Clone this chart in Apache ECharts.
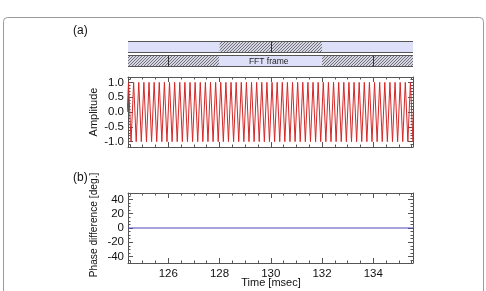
<!DOCTYPE html>
<html><head><meta charset="utf-8">
<script src="https://cdn.jsdelivr.net/npm/echarts@6/dist/echarts.min.js"></script>
<style>html,body{margin:0;padding:0;background:#fff}#c{width:486px;height:291px}</style>
</head><body><div id="c"></div>
<script>
// ---- data ----
const timeMin = 124.43, timeMax = 135.55;
const sampleStart = 124.40, sampleStep = 0.05; // msec, uniform sampling
const amplitude = [
0,1,0,-1,0,1,0,-1,0,1,0,-1,0,1,0,-1,0,1,0,-1,
0,1,0,-1,0,1,0,-1,0,1,0,-1,0,1,0,-1,0,1,0,-1,
0,1,0,-1,0,1,0,-1,0,1,0,-1,0,1,0,-1,0,1,0,-1,
0,1,0,-1,0,1,0,-1,0,1,0,-1,0,1,0,-1,0,1,0,-1,
0,1,0,-1,0,1,0,-1,0,1,0,-1,0,1,0,-1,0,1,0,-1,
0,1,0,-1,0,1,0,-1,0,1,0,-1,0,1,0,-1,0,1,0,-1,
0,1,0,-1,0,1,0,-1,0,1,0,-1,0,1,0,-1,0,1,0,-1,
0,1,0,-1,0,1,0,-1,0,1,0,-1,0,1,0,-1,0,1,0,-1,
0,1,0,-1,0,1,0,-1,0,1,0,-1,0,1,0,-1,0,1,0,-1,
0,1,0,-1,0,1,0,-1,0,1,0,-1,0,1,0,-1,0,1,0,-1,
0,1,0,-1,0,1,0,-1,0,1,0,-1,0,1,0,-1,0,1,0,-1,
0,1,0,-1,0
];
const phaseTimes = [124.43, 135.55];
const phaseDiff = [0, 0];
const timeTicks = [126, 128, 130, 132, 134];
const timeMinorTicks = [124.5,125,125.5,126.5,127,127.5,128.5,129,129.5,130.5,131,131.5,132.5,133,133.5,134.5,135,135.5];
const ampTicks = [-1, -0.5, 0, 0.5, 1];
const ampMinorTicks = [-1.1,-0.9,-0.8,-0.7,-0.6,-0.4,-0.3,-0.2,-0.1,0.1,0.2,0.3,0.4,0.6,0.7,0.8,0.9,1.1];
const phaseTicks = [-40, -20, 0, 20, 40];
const phaseMinorTicks = [-45,-35,-30,-25,-15,-10,-5,5,10,15,25,30,35,45];
// frame bar segments: [start, end, row, hatched]
const frameSegments = [
  [timeMin, 128, 0, 0], [128, 132, 0, 1], [132, timeMax, 0, 0],
  [timeMin, 128, 1, 1], [128, 132, 1, 0], [132, timeMax, 1, 1]
];
const frameDividers = [[130, 0], [126, 1], [134, 1]];
const frameLabels = [['FFT frame', 130, 1]];

// ---- styles ----
const FONT = "'Liberation Sans', Arial, Helvetica, sans-serif";
const AXC = '#555';
const TICK_FS = 11.5;
const hatch = document.createElement('canvas');
hatch.width = 3; hatch.height = 3;
(function(){
  const ctx = hatch.getContext('2d');
  const img = ctx.createImageData(3,3);
  for (let y=0;y<3;y++) for (let x=0;x<3;x++){
    const i=(y*3+x)*4; const dark=((x+y)%3===2);
    const c = dark?[112,112,128]:[214,214,224];
    img.data[i]=c[0]; img.data[i+1]=c[1]; img.data[i+2]=c[2]; img.data[i+3]=255;
  }
  ctx.putImageData(img,0,0);
})();

const ampData = amplitude.map((a,i)=>[sampleStart + i*sampleStep, a]);
const phaseData = phaseTimes.map((t,i)=>[t, phaseDiff[i]]);

function xAxes(g, labels){
  const base = {gridIndex:g, type:'value', min:timeMin, max:timeMax, splitLine:{show:false}};
  return [
    Object.assign({}, base, {position:'bottom', axisLine:{show:true, onZero:false, lineStyle:{color:AXC,width:1}},
      axisTick:{show:true, inside:true, length:5, customValues:timeTicks, lineStyle:{color:AXC}},
      axisLabel:{show:labels, customValues:timeTicks, color:'#111', fontFamily:FONT, fontSize:TICK_FS, margin:5}}),
    Object.assign({}, base, {position:'bottom', offset:0, axisLine:{show:false, onZero:false},
      axisTick:{show:true, inside:true, length:2.5, customValues:timeMinorTicks, lineStyle:{color:AXC}},
      axisLabel:{show:false}}),
    Object.assign({}, base, {position:'top', offset:0, axisLine:{show:true, onZero:false, lineStyle:{color:AXC,width:1}},
      axisTick:{show:true, inside:true, length:5, customValues:timeTicks, lineStyle:{color:AXC}},
      axisLabel:{show:false}}),
    Object.assign({}, base, {position:'top', offset:0, axisLine:{show:false, onZero:false},
      axisTick:{show:true, inside:true, length:2.5, customValues:timeMinorTicks, lineStyle:{color:AXC}},
      axisLabel:{show:false}})
  ];
}
function yAxes(g, mn, mx, ticks, minor, fmt){
  const base = {gridIndex:g, type:'value', min:mn, max:mx, splitLine:{show:false}};
  return [
    Object.assign({}, base, {position:'left', axisLine:{show:true, onZero:false, lineStyle:{color:AXC,width:1}},
      axisTick:{show:true, inside:true, length:5, customValues:ticks, lineStyle:{color:AXC}},
      axisLabel:{show:true, customValues:ticks, formatter:fmt, color:'#111', fontFamily:FONT, fontSize:TICK_FS, margin:4}}),
    Object.assign({}, base, {position:'left', offset:0, axisLine:{show:false, onZero:false},
      axisTick:{show:true, inside:true, length:2.5, customValues:minor, lineStyle:{color:AXC}},
      axisLabel:{show:false}}),
    Object.assign({}, base, {position:'right', offset:0, axisLine:{show:true, onZero:false, lineStyle:{color:AXC,width:1}},
      axisTick:{show:true, inside:true, length:5, customValues:ticks, lineStyle:{color:AXC}},
      axisLabel:{show:false}}),
    Object.assign({}, base, {position:'right', offset:0, axisLine:{show:false, onZero:false},
      axisTick:{show:true, inside:true, length:2.5, customValues:minor, lineStyle:{color:AXC}},
      axisLabel:{show:false}})
  ];
}

const BAR_H = 11;
const rowCenter = r => r === 0 ? 1.5 : 0.5;

const chart = echarts.init(document.getElementById('c'), null, {renderer:'canvas'});
chart.setOption({
  animation:false,
  grid:[
    {left:128, right:73, top:39, height:29},
    {left:128, right:73, top:77, height:70},
    {left:128, right:73, top:193, height:70}
  ],
  xAxis:[{gridIndex:0, type:'value', min:timeMin, max:timeMax, show:false}]
    .concat(xAxes(1,false)).concat(xAxes(2,true)),
  yAxis:[{gridIndex:0, type:'value', min:0, max:2, show:false}]
    .concat(yAxes(1,-1.18,1.18,ampTicks,ampMinorTicks,v=>v.toFixed(1)))
    .concat(yAxes(2,-49,49,phaseTicks,phaseMinorTicks,v=>String(v))),
  series:[
    {type:'custom', xAxisIndex:0, yAxisIndex:0, data:frameSegments, clip:false,
      renderItem:function(params, api){
        const r = api.value(2);
        const p1 = api.coord([api.value(0), rowCenter(r)]);
        const p2 = api.coord([api.value(1), rowCenter(r)]);
        const top = Math.round(p1[1]-BAR_H/2)+0.5;
        return {type:'rect', shape:{x:p1[0], y:top, width:p2[0]-p1[0], height:BAR_H},
          style: api.value(3) ? {fill:{image:hatch, repeat:'repeat'}} : {fill:'#dde0f8'}};
      }},
    {type:'custom', xAxisIndex:0, yAxisIndex:0, data:[[timeMin,timeMax,0],[timeMin,timeMax,1]], clip:false,
      renderItem:function(params, api){
        const r = api.value(2);
        const p1 = api.coord([api.value(0), rowCenter(r)]);
        const p2 = api.coord([api.value(1), rowCenter(r)]);
        const top = Math.round(p1[1]-BAR_H/2)+0.5;
        return {type:'group', children:[
          {type:'line', shape:{x1:p1[0],y1:top,x2:p2[0],y2:top}, style:{stroke:'#555',lineWidth:1}},
          {type:'line', shape:{x1:p1[0],y1:top+BAR_H,x2:p2[0],y2:top+BAR_H}, style:{stroke:'#555',lineWidth:1}}
        ]};
      }},
    {type:'custom', xAxisIndex:0, yAxisIndex:0, data:frameDividers, clip:false,
      renderItem:function(params, api){
        const r = api.value(1);
        const p = api.coord([api.value(0), rowCenter(r)]);
        const top = Math.round(p[1]-BAR_H/2)+0.5;
        const x = Math.round(p[0])+0.5;
        return {type:'line', shape:{x1:x,y1:top,x2:x,y2:top+BAR_H}, style:{stroke:'#333',lineWidth:1}};
      }},
    {type:'custom', xAxisIndex:0, yAxisIndex:0, data:frameLabels.map(d=>[d[1],d[2]]), clip:false,
      renderItem:function(params, api){
        const p = api.coord([api.value(0), rowCenter(api.value(1))]);
        return {type:'text', x:p[0]-2, y:p[1]+0.5, style:{text:frameLabels[params.dataIndex][0], fontFamily:FONT, fontSize:8.5,
          fill:'#222', align:'center', verticalAlign:'middle'}};
      }},
    {type:'line', xAxisIndex:1, yAxisIndex:1, data:ampData, showSymbol:false, symbol:'none',
      lineStyle:{color:'#d42828', width:1}, clip:true},
    {type:'line', xAxisIndex:5, yAxisIndex:5, data:phaseData, showSymbol:false, symbol:'none',
      lineStyle:{color:'#4a4ab8', width:1}, clip:true}
  ],
  graphic:[
    {type:'rect', shape:{x:3.5, y:17.5, width:480, height:290, r:4}, style:{fill:'none', stroke:'#9a9a9a', lineWidth:1}},
    {type:'text', x:73, y:31, style:{text:'(a)', fontFamily:FONT, fontSize:12, fill:'#111', verticalAlign:'middle'}},
    {type:'text', x:73, y:178, style:{text:'(b)', fontFamily:FONT, fontSize:12, fill:'#111', verticalAlign:'middle'}},
    {type:'text', x:94, y:112, rotation:Math.PI/2, style:{text:'Amplitude', fontFamily:FONT, fontSize:11, fill:'#111', align:'center', verticalAlign:'middle'}},
    {type:'text', x:94, y:225, rotation:Math.PI/2, style:{text:'Phase difference [deg.]', fontFamily:FONT, fontSize:10.2, fill:'#111', align:'center', verticalAlign:'middle'}},
    {type:'text', x:271, y:283, style:{text:'Time [msec]', fontFamily:FONT, fontSize:11, fill:'#111', align:'center', verticalAlign:'middle'}}
  ]
});
</script></body></html>
